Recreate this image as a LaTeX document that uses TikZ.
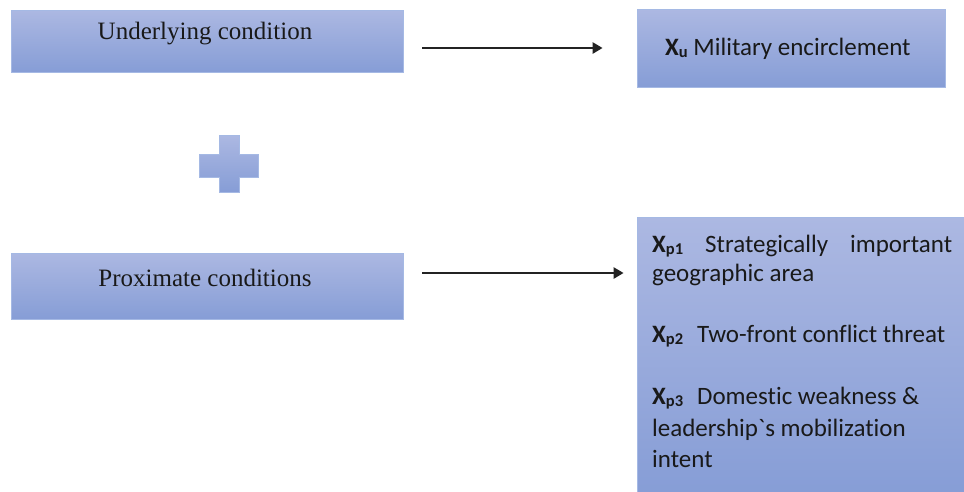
\documentclass[tikz,border=0pt]{standalone}
\usepackage{fontspec}
\setmainfont{Liberation Serif}
\newfontfamily\carfont[Ligatures={TeXOff,NoCommon}]{Carlito}
\usetikzlibrary{arrows.meta}
\definecolor{boxtop}{RGB}{172,184,226}
\definecolor{boxbot}{RGB}{134,157,214}
\definecolor{boxline}{RGB}{165,185,228}
\definecolor{arrcol}{RGB}{35,35,35}
\newcommand{\xsub}[1]{\textbf{X}\raisebox{-0.1em}{\fontsize{16.5}{16.5}\selectfont\textbf{#1}}}
\begin{document}
\begin{tikzpicture}[x=1pt,y=-1pt,
  box/.style={draw=boxline,line width=0.8pt,top color=boxtop,bottom color=boxbot,inner sep=0pt},
  lefttext/.style={inner sep=0pt,font=\fontsize{25}{29}\selectfont,text=black!90},
  righttext/.style={inner sep=0pt,anchor=base west,font=\carfont\fontsize{25}{31}\selectfont,text=black!90},
  arr/.style={draw=arrcol,line width=2.6pt,-{Triangle[length=10pt,width=11pt]}}]
\useasboundingbox (0,0) rectangle (964,491);
\clip (0,0) rectangle (964,491);
% boxes
\node[box,minimum width=392pt,minimum height=62pt] (u) at (207,41) {};
\node[box,minimum width=308pt,minimum height=78pt] (m) at (791,48) {};
\node[box,minimum width=392pt,minimum height=66pt] (p) at (207,286) {};
\node[box,minimum width=331pt,minimum height=278pt] (r) at (802.5,356) {};
% left texts
\node[lefttext] (ut) at (205,34) {Underlying condition};
\node[lefttext] (pt) at (205,278) {Proximate conditions};
% right texts
\node[righttext] (mt) at (665,55) {\xsub{u} Military encirclement};
\node[righttext] (l1) at (652,252) {\makebox[300pt][s]{\xsub{p1}\ \ \ Strategically\ \ \ important}};
\node[righttext] (l2) at (652,281) {geographic area};
\node[righttext] (l3) at (652,342) {\xsub{p2}\hspace{14pt}Two-front conflict threat};
\node[righttext] (l4) at (652,404) {\xsub{p3}\hspace{14pt}Domestic weakness \&};
\node[righttext] (l5) at (652,436) {leadership`s mobilization};
\node[righttext] (l6) at (652,467) {intent};
% plus sign
\draw[draw=boxline,line width=0.8pt,top color=boxtop,bottom color=boxbot]
  (219,135) -- (239,135) -- (239,154) -- (258,154) -- (258,177) -- (239,177) -- (239,192)
  -- (219,192) -- (219,177) -- (199,177) -- (199,154) -- (219,154) -- cycle;
% arrows
\draw[arr,shorten <=19pt,shorten >=34pt] (u.east |- m.west) -- (m.west);
\draw[arr,shorten <=19pt,shorten >=13pt] ([yshift=13pt]p.east) -- ([yshift=13pt]p.east -| r.west);
\end{tikzpicture}
\end{document}
